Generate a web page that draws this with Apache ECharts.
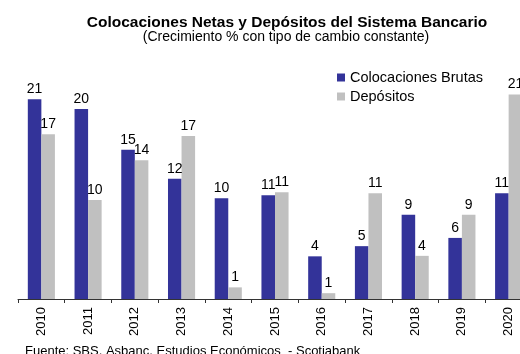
<!DOCTYPE html>
<html><head><meta charset="utf-8">
<script src="https://cdn.jsdelivr.net/npm/echarts@6/dist/echarts.min.js"></script>
<style>html,body{margin:0;padding:0;background:#fff;overflow:hidden;width:520px;height:354px}#c{width:540px;height:354px}</style>
</head><body><div id="c"></div>
<script>
const years = ['2010','2011','2012','2013','2014','2015','2016','2017','2018','2019','2020'];
const colocaciones = [20.6, 19.6, 15.4, 12.4, 10.4, 10.7, 4.4, 5.45, 8.7, 6.3, 10.9];
const depositos = [17.0, 10.2, 14.3, 16.8, 1.2, 11.0, 0.6, 10.9, 4.45, 8.7, 21.1];
const titleText = 'Colocaciones Netas y Depósitos del Sistema Bancario';
const subtitleText = '(Crecimiento % con tipo de cambio constante)';
const sourceText = 'Fuente: SBS, Asbanc, Estudios Económicos  - Scotiabank';

const chart = echarts.init(document.getElementById('c'));
const lbl = {show:true, position:'top', distance:3, color:'#000', fontFamily:'Liberation Sans, Arial', fontSize:14,
  formatter: p => Math.round(p.value)};
chart.setOption({
  animation:false,
  legend:{
    orient:'vertical', left:332, top:65, itemWidth:8, itemHeight:8, itemGap:4, icon:'rect',
    textStyle:{fontFamily:'Liberation Sans, Arial', fontSize:14.5, color:'#000'}
  },
  graphic:[
    {type:'text', x:287, y:22.7, style:{text:titleText, textAlign:'center', textVerticalAlign:'middle',
      font:'bold 15.5px Liberation Sans, Arial', fill:'#000'}},
    {type:'text', x:286, y:37, style:{text:subtitleText, textAlign:'center', textVerticalAlign:'middle',
      font:'14px Liberation Sans, Arial', fill:'#000'}},
    {type:'text', left:25, top:345, style:{text:sourceText, font:'13px Liberation Sans, Arial', fill:'#000'}}
  ],
  grid:{left:18, width:514, top:60, bottom:55, containLabel:false},
  xAxis:{type:'category', data:years,
    axisLine:{lineStyle:{color:'#333', width:1}},
    axisTick:{show:true, length:4, lineStyle:{color:'#333'}},
    axisLabel:{rotate:90, color:'#000', fontFamily:'Liberation Sans, Arial', fontSize:13, margin:8}},
  yAxis:{type:'value', min:0, max:24.65, show:false, splitLine:{show:false}},
  series:[
    {name:'Colocaciones Brutas', type:'bar', data:colocaciones, itemStyle:{color:'#333399'},
      barGap:'0%', barCategoryGap:'42%', label:lbl},
    {name:'Depósitos', type:'bar', data:depositos, itemStyle:{color:'#C0C0C0'}, label:lbl}
  ]
});
</script></body></html>
